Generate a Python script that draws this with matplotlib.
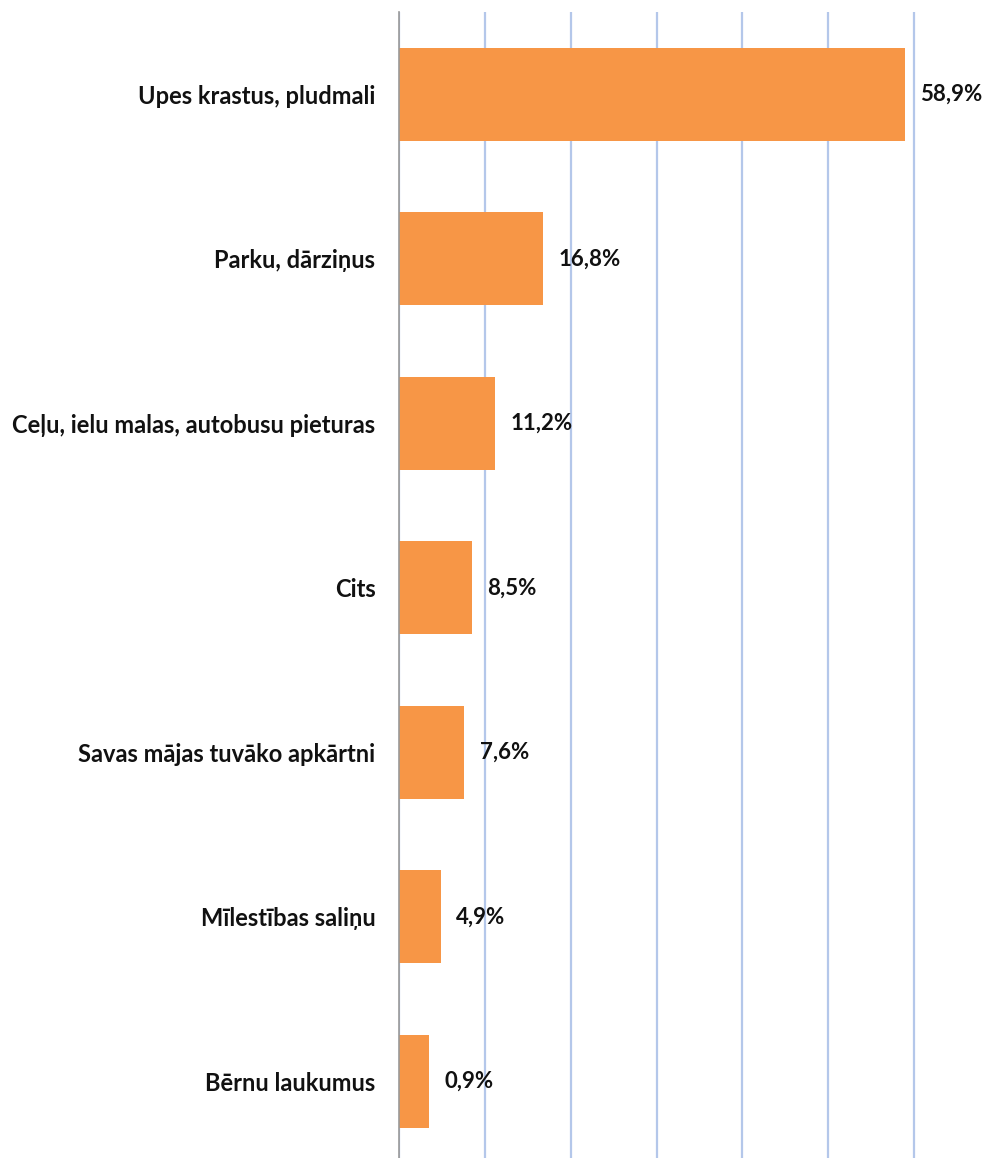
import matplotlib
matplotlib.use("Agg")
import matplotlib.pyplot as plt

categories = [
    "Upes krastus, pludmali",
    "Parku, dārziņus",
    "Ceļu, ielu malas, autobusu pieturas",
    "Cits",
    "Savas mājas tuvāko apkārtni",
    "Mīlestības saliņu",
    "Bērnu laukumus",
]
# bar lengths as drawn (the last bar is drawn longer than its label says)
bar_values = [58.9, 16.8, 11.2, 8.5, 7.6, 4.9, 3.5]
value_labels = ["58,9%", "16,8%", "11,2%", "8,5%", "7,6%", "4,9%", "0,9%"]
grid_ticks = [0, 10, 20, 30, 40, 50, 60]

BAR = "#F79646"
GRID = "#B4C7EA"
FONT = "Lato"

W, H = 994, 1158
PX = (914 - 399) / 60  # pixels per percent
fig = plt.figure(figsize=(W / 100, H / 100), dpi=100)
ax = fig.add_axes([399 / W, 1 - 1163.5 / H, 62 * PX / W, (1163.5 - 12) / H])

y = list(range(len(categories)))
ax.barh(y, bar_values, height=0.565, color=BAR, zorder=2)
ax.set_xlim(0, 62)
ax.set_ylim(6.5, -0.5)

ax.set_xticks(grid_ticks)
ax.xaxis.grid(True, color=GRID, lw=1.6, zorder=0)
ax.tick_params(axis="x", length=0, labelbottom=False)
for s in ("top", "right", "bottom"):
    ax.spines[s].set_visible(False)
ax.spines["left"].set_color("#999999")
ax.spines["left"].set_linewidth(1.2)
ax.spines["left"].set_zorder(3)

ax.set_yticks(y)
ax.set_yticklabels(categories, fontsize=17, fontweight="bold", family=FONT, color="#111111")
ax.tick_params(axis="y", length=0, pad=17)

for yi, v, lab in zip(y, bar_values, value_labels):
    ax.annotate(lab, (v, yi), xytext=(11, 0), textcoords="offset points",
                va="center", ha="left", fontsize=16, fontweight="bold",
                family=FONT, color="#111111", annotation_clip=False)

fig.savefig("out.png", dpi=100)
